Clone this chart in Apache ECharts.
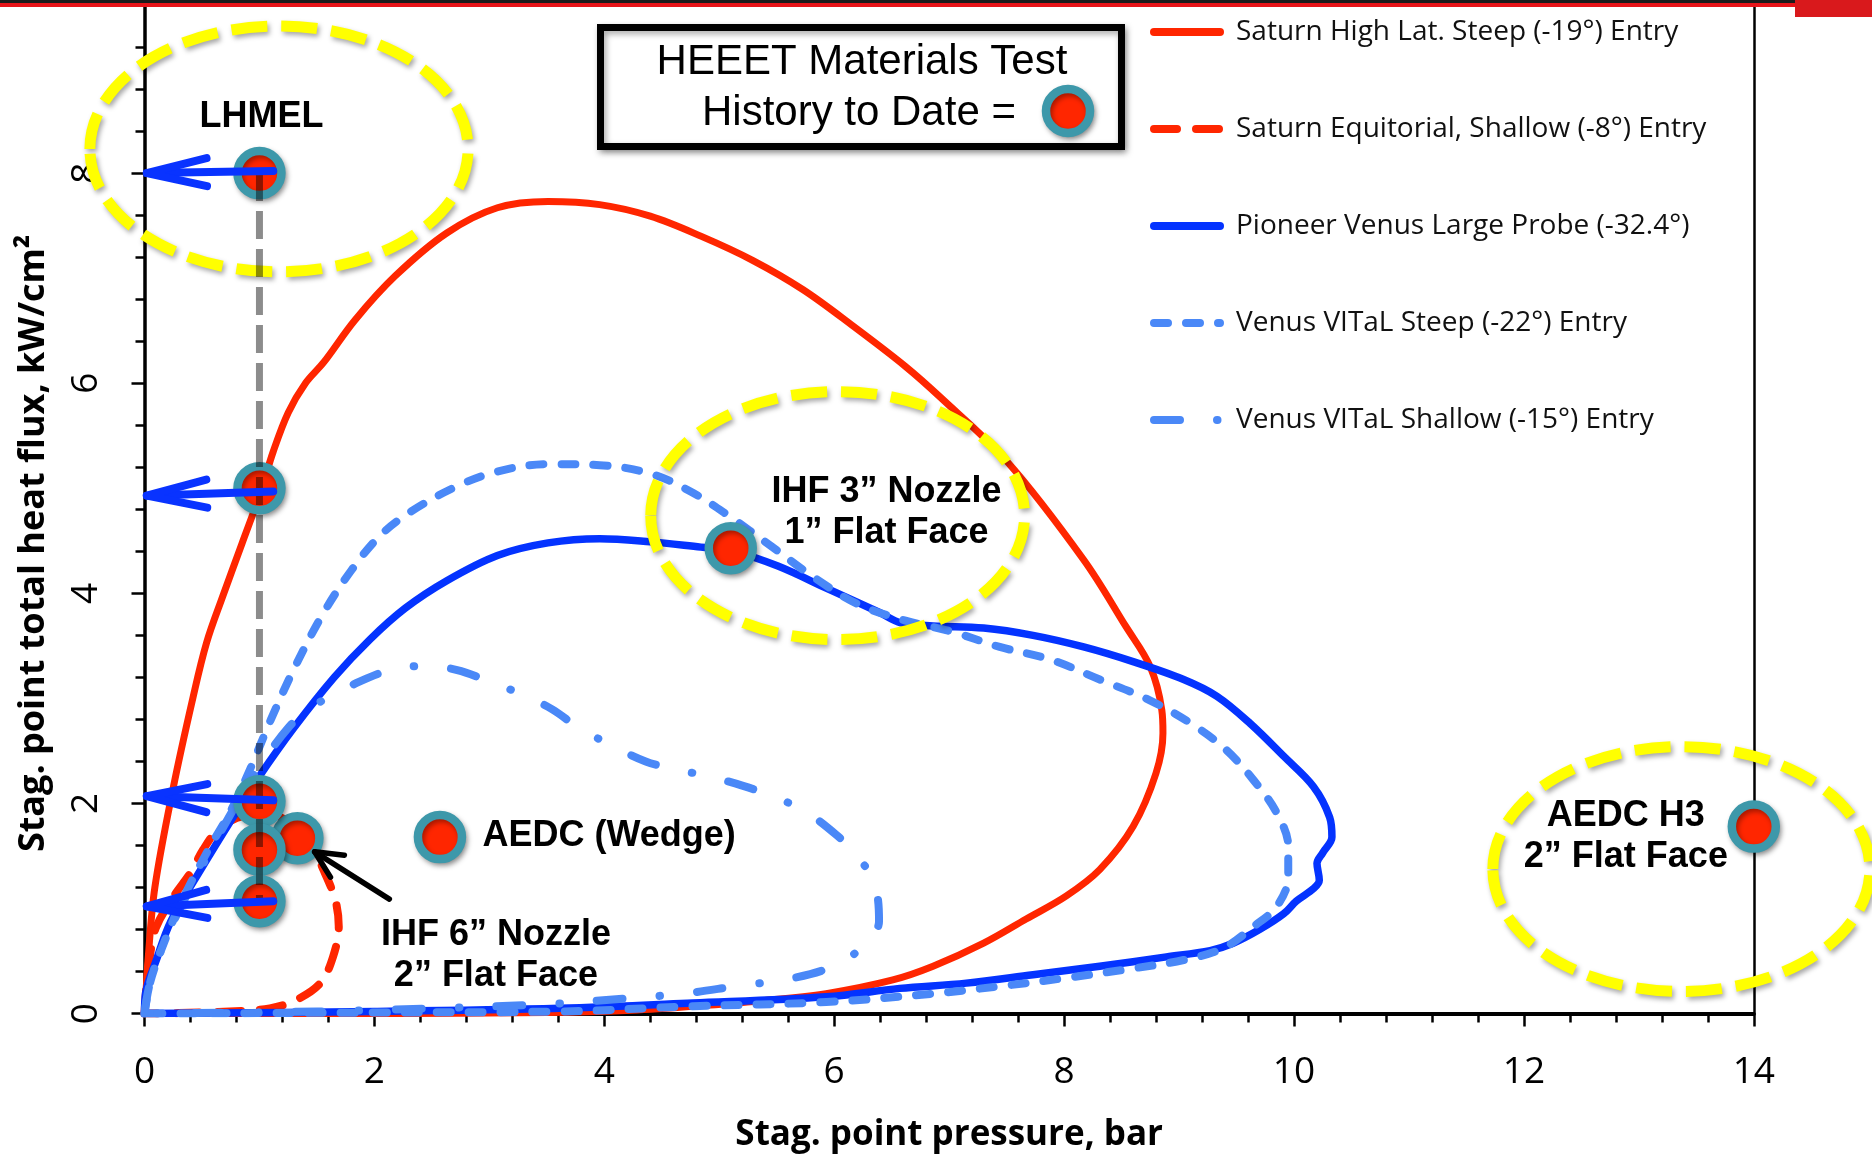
<!DOCTYPE html>
<html>
<head>
<meta charset="utf-8">
<script src="https://cdn.jsdelivr.net/npm/echarts@6/dist/echarts.min.js"></script>
<style>
html,body{margin:0;padding:0;background:#ffffff;}
#chart{width:1872px;height:1157px;}
</style>
</head>
<body>
<div id="chart"></div>
<script>
// ---------------- DATA ----------------
const seriesNames = [
  'Saturn High Lat. Steep (-19°) Entry',
  'Saturn Equitorial, Shallow (-8°) Entry',
  'Pioneer Venus Large Probe (-32.4°)',
  'Venus VITaL Steep (-22°) Entry',
  'Venus VITaL Shallow (-15°) Entry'
];
const xAxisTitle = 'Stag. point pressure, bar';
const yAxisTitle = 'Stag. point total heat flux, kW/cm²';

// [pressure (bar), heat flux (kW/cm2)] along each trajectory
const saturnSteep = [[0,0],[0.01,0.15],[0.03,0.5],[0.09,1.2],[0.25,2.15],[0.42,3.0],[0.54,3.53],[0.68,3.97],[0.85,4.48],[1.0,4.93],[1.12,5.35],[1.25,5.72],[1.4,6.0],[1.56,6.2],[1.83,6.6],[2.18,7.02],[2.63,7.43],[3.07,7.67],[3.51,7.73],[3.96,7.7],[4.4,7.59],[4.84,7.4],[5.29,7.17],[5.73,6.89],[6.17,6.54],[6.62,6.16],[6.92,5.87],[7.5,5.26],[8.17,4.32],[8.54,3.68],[8.75,3.3],[8.85,2.89],[8.86,2.67],[8.8,2.29],[8.6,1.78],[8.31,1.37],[8.02,1.12],[7.67,0.9],[7.3,0.67],[6.86,0.45],[6.51,0.32],[5.93,0.19],[5.35,0.12],[4.77,0.07],[4.19,0.03],[3.5,0.01],[2,0],[0,0]];
const saturnShallow = [[0,0],[0.02,0.3],[0.05,0.57],[0.1,0.82],[0.25,1.11],[0.4,1.34],[0.51,1.56],[0.63,1.74],[0.8,1.86],[1.0,1.91],[1.2,1.86],[1.42,1.66],[1.56,1.36],[1.66,1.08],[1.69,0.83],[1.64,0.54],[1.53,0.29],[1.32,0.13],[1.09,0.05],[0.74,0.02],[0.3,0.005],[0,0]];
const pioneerVenus = [[0,0],[0.01,0.2],[0.1,0.5],[0.23,0.88],[0.5,1.39],[0.77,1.87],[1.0,2.26],[1.3,2.72],[1.65,3.2],[1.96,3.56],[2.27,3.86],[2.63,4.12],[3.07,4.36],[3.51,4.48],[3.96,4.52],[4.4,4.49],[4.84,4.44],[5.1,4.41],[5.51,4.26],[5.95,4.04],[6.39,3.82],[6.58,3.72],[6.86,3.69],[7.3,3.67],[7.73,3.6],[8.17,3.49],[8.6,3.35],[9.04,3.18],[9.33,3.02],[9.62,2.76],[9.91,2.45],[10.17,2.16],[10.31,1.87],[10.33,1.68],[10.25,1.53],[10.2,1.43],[10.22,1.27],[10.17,1.19],[10.02,1.07],[9.91,0.95],[9.7,0.8],[9.47,0.67],[9.27,0.6],[8.89,0.54],[8.31,0.45],[7.73,0.37],[7.15,0.29],[6.57,0.24],[5.93,0.16],[4.77,0.1],[3.61,0.05],[2,0.02],[0,0]];
const vitalSteep = [[0,0],[0.05,0.3],[0.15,0.62],[0.32,1.06],[0.55,1.55],[0.75,1.93],[0.92,2.33],[1.1,2.8],[1.3,3.28],[1.55,3.8],[1.8,4.22],[2.05,4.55],[2.32,4.78],[2.72,5.02],[3.07,5.16],[3.51,5.23],[3.96,5.22],[4.4,5.14],[4.75,4.97],[5.08,4.74],[5.45,4.45],[5.84,4.14],[6.2,3.9],[6.62,3.74],[7.01,3.64],[7.44,3.49],[7.88,3.37],[8.31,3.18],[8.75,2.98],[9.12,2.75],[9.41,2.51],[9.65,2.22],[9.85,1.91],[9.95,1.59],[9.95,1.3],[9.85,1.02],[9.65,0.83],[9.38,0.62],[9.04,0.51],[8.6,0.43],[8.02,0.34],[7.44,0.26],[6.86,0.19],[5.93,0.11],[4.77,0.07],[3.61,0.02],[2,0.01],[0,0]];
const vitalShallow = [[0,0],[0.05,0.3],[0.2,0.75],[0.45,1.3],[0.75,1.9],[1.0,2.35],[1.25,2.72],[1.45,2.92],[1.61,3.01],[1.87,3.16],[2.14,3.27],[2.43,3.31],[2.72,3.27],[3.0,3.16],[3.28,3.04],[3.54,2.9],[3.78,2.72],[4.05,2.56],[4.36,2.4],[4.6,2.33],[4.9,2.26],[5.2,2.17],[5.46,2.07],[5.74,1.93],[6.02,1.7],[6.2,1.5],[6.35,1.24],[6.39,0.88],[6.27,0.66],[6.01,0.46],[5.65,0.34],[5.14,0.26],[4.69,0.19],[4.25,0.15],[3.5,0.09],[2.5,0.05],[1.5,0.02],[0,0]];

// HEEET materials test points [pressure, heat flux]
const testPoints = [[1.33,1.67],[1.0,8.0],[1.0,5.0],[1.0,2.02],[1.0,1.56],[1.0,1.07],[2.57,1.68],[5.1,4.43],[14.0,1.78]];
// LHMEL sweep (dashed grey line)
const lhmelSweep = [[1.0,8.0],[1.0,1.07]];
// arrows [x0, y0, xTip, yTip]
const lhmelArrows = [[1.12,8.02,0.02,8.0],[1.12,4.97,0.02,4.93],[1.12,2.03,0.02,2.07],[1.12,1.07,0.02,1.02]];
const pointerArrows = [[2.13,1.09,1.48,1.54]];
// highlight ellipses [cx, cy, rx, ry] in data units
const highlightEllipses = [[1.17,8.23,1.645,1.17],[6.03,4.74,1.626,1.18],[13.37,1.376,1.64,1.165]];
// annotations
const annotationTexts = ['LHMEL','IHF 3” Nozzle\n1” Flat Face','AEDC (Wedge)','IHF 6” Nozzle\n2” Flat Face','AEDC H3\n2” Flat Face'];
const annotationAnchors = [[1.018,8.534],[6.455,4.765],[2.94,1.69],[3.057,0.555],[12.887,1.684]];
const annotationAlign = ['center','center','left','center','center'];

// ---------------- STYLE ----------------
const RED = '#ff2600', BLUE = '#0433ff', LBLUE = '#4a88f7';
const MARK_RED = '#ff2600', MARK_RING = '#3d98aa';

function lineSeries(name, data, color, dash, width) {
  return {
    name, type: 'line', data, symbol: 'none', smooth: 0.35, z: 2,
    lineStyle: {color, width, type: dash, cap: 'round', join: 'round'},
    itemStyle: {color}, emphasis: {disabled: true}, silent: true
  };
}

function arrowRenderer(color, width, headLen, headHalf) {
  return function (params, api) {
    const p0 = api.coord([api.value(0), api.value(1)]);
    const p1 = api.coord([api.value(2), api.value(3)]);
    const dx = p1[0] - p0[0], dy = p1[1] - p0[1];
    const L = Math.hypot(dx, dy) || 1;
    const ux = dx / L, uy = dy / L;
    const bx = p1[0] - ux * headLen, by = p1[1] - uy * headLen;
    const a = [bx - uy * headHalf, by + ux * headHalf];
    const b = [bx + uy * headHalf, by - ux * headHalf];
    return {
      type: 'group', children: [
        {type: 'line', shape: {x1: p0[0], y1: p0[1], x2: p1[0], y2: p1[1]},
         style: {stroke: color, lineWidth: width, lineCap: 'round'}},
        {type: 'polyline', shape: {points: [a, p1, b]},
         style: {stroke: color, lineWidth: width, lineCap: 'round', lineJoin: 'round', fill: 'none'}}
      ]
    };
  };
}

const chart = echarts.init(document.getElementById('chart'), null, {renderer: 'canvas', width: 1872, height: 1157});

const axisFont = '"Open Sans", "DejaVu Sans", sans-serif';
const boldFont = '"Liberation Sans", Arial, sans-serif';

const option = {
  animation: false,
  backgroundColor: '#ffffff',
  grid: {left: 144.5, right: 118.2, top: 5, bottom: 143.4, outerBoundsMode: 'none', containLabel: false},
  legend: {
    orient: 'vertical', left: 1150, top: 15, padding: 0,
    itemWidth: 66, itemHeight: 14, itemGap: 63,
    data: seriesNames, selectedMode: false,
    itemStyle: {opacity: 0, borderWidth: 0},
    lineStyle: {width: 8},
    textStyle: {fontFamily: axisFont, fontSize: 28, color: '#111', lineHeight: 34, padding: [0, 0, 0, 11]}
  },
  xAxis: {
    type: 'value', min: 0, max: 14, interval: 2,
    name: xAxisTitle, nameLocation: 'middle', nameGap: 104,
    nameTextStyle: {fontFamily: axisFont, fontSize: 35, fontWeight: 'bold', color: '#000'},
    axisLine: {show: true, onZero: false, lineStyle: {color: '#000', width: 4}},
    axisTick: {show: true, length: 13, lineStyle: {color: '#000', width: 2.5}},
    minorTick: {show: true, splitNumber: 5, length: 9, lineStyle: {color: '#000', width: 2.5}},
    axisLabel: {fontFamily: axisFont, fontSize: 37, color: '#000', margin: 40, lineHeight: 37},
    splitLine: {show: false}, minorSplitLine: {show: false}
  },
  yAxis: [{
    type: 'value', min: 0, max: 9.6, interval: 2,
    name: yAxisTitle, nameLocation: 'middle', nameGap: 93, nameRotate: 90,
    nameTextStyle: {fontFamily: axisFont, fontSize: 36, fontWeight: 'bold', color: '#000', padding: [0, 68, 0, 0]},
    axisLine: {show: true, onZero: false, lineStyle: {color: '#000', width: 3.5}},
    axisTick: {show: true, length: 13, lineStyle: {color: '#000', width: 2.5}},
    minorTick: {show: true, splitNumber: 5, length: 9, lineStyle: {color: '#000', width: 2.5}},
    axisLabel: {fontFamily: axisFont, fontSize: 37, color: '#000', rotate: 90, margin: 40, lineHeight: 37, showMaxLabel: false},
    splitLine: {show: false}, minorSplitLine: {show: false}
  }, {
    type: 'value', min: 0, max: 9.6, position: 'right',
    axisLine: {show: true, onZero: false, lineStyle: {color: '#000', width: 2.5}},
    axisTick: {show: false}, axisLabel: {show: false}, splitLine: {show: false}
  }],
  graphic: [
    {type: 'rect', shape: {x: 0, y: 0, width: 1872, height: 3}, style: {fill: '#1c1c1c'}, z: 100},
    {type: 'rect', shape: {x: 0, y: 3, width: 1872, height: 4}, style: {fill: '#e8141a'}, z: 100},
    {type: 'rect', shape: {x: 1795, y: 0, width: 77, height: 17}, style: {fill: '#d9191c'}, z: 100},
    {type: 'rect', shape: {x: 600.5, y: 27.5, width: 521, height: 119},
     style: {fill: '#ffffff', stroke: '#000', lineWidth: 7, shadowBlur: 6, shadowColor: 'rgba(0,0,0,0.35)', shadowOffsetX: 2, shadowOffsetY: 3}, z: 100},
    {type: 'text', x: 862, y: 62, style: {text: 'HEEET Materials Test', fill: '#000', fontSize: 42, fontFamily: boldFont, align: 'center', verticalAlign: 'middle'}, z: 101},
    {type: 'text', x: 702, y: 113, style: {text: 'History to Date =', fill: '#000', fontSize: 42, fontFamily: boldFont, align: 'left', verticalAlign: 'middle'}, z: 101},
    {type: 'circle', shape: {cx: 1068, cy: 111, r: 22},
     style: {fill: MARK_RED, stroke: MARK_RING, lineWidth: 8.5, shadowBlur: 5, shadowColor: 'rgba(0,0,0,0.35)', shadowOffsetX: 2, shadowOffsetY: 3}, z: 101}
  ],
  series: [
    lineSeries(seriesNames[0], saturnSteep, RED, 'solid', 7),
    lineSeries(seriesNames[1], saturnShallow, RED, [23, 19], 8),
    lineSeries(seriesNames[2], pioneerVenus, BLUE, 'solid', 7.5),
    lineSeries(seriesNames[3], vitalSteep, LBLUE, [14, 18], 8),
    lineSeries(seriesNames[4], vitalShallow, LBLUE, [26, 37, 0.5, 37], 8),
    {
      name: 'highlight', type: 'custom', coordinateSystem: 'cartesian2d', z: 3, silent: true, clip: false,
      data: highlightEllipses,
      renderItem: function (params, api) {
        const c = api.coord([api.value(0), api.value(1)]);
        const s = api.size([api.value(2), api.value(3)], [api.value(0), api.value(1)]);
        const rx = s[0], ry = s[1];
        const d = 'M' + (c[0] - rx) + ' ' + c[1] + ' A' + rx + ' ' + ry + ' 0 1 1 ' + (c[0] + rx) + ' ' + c[1] +
                  ' A' + rx + ' ' + ry + ' 0 1 1 ' + (c[0] - rx) + ' ' + c[1] + ' Z';
        return {type: 'path', shape: {pathData: d},
          style: {fill: 'none', stroke: '#ffff00', lineWidth: 11, lineDash: [36, 14],
                  shadowBlur: 5, shadowColor: 'rgba(0,0,0,0.35)', shadowOffsetX: 2, shadowOffsetY: 3}};
      }
    },
    {
      name: 'HEEET Materials Test', type: 'scatter', data: testPoints, z: 4, silent: true,
      symbol: 'circle', symbolSize: 44, clip: false,
      itemStyle: {color: MARK_RED, borderColor: MARK_RING, borderWidth: 8.5, opacity: 1,
                  shadowBlur: 5, shadowColor: 'rgba(0,0,0,0.35)', shadowOffsetX: 2, shadowOffsetY: 3},
      emphasis: {disabled: true}
    },
    {
      name: 'LHMEL sweep', type: 'line', data: lhmelSweep, z: 5, symbol: 'none', silent: true,
      lineStyle: {color: 'rgba(0,0,0,0.45)', width: 7, type: [28, 10]}
    },
    {
      name: 'LHMEL arrows', type: 'custom', coordinateSystem: 'cartesian2d', z: 6, silent: true, clip: false,
      data: lhmelArrows, renderItem: arrowRenderer('#0933ff', 8, 60, 14)
    },
    {
      name: 'pointer', type: 'custom', coordinateSystem: 'cartesian2d', z: 6, silent: true, clip: false,
      data: pointerArrows, renderItem: arrowRenderer('#000000', 5.5, 27, 13)
    },
    {
      name: 'annotations', type: 'custom', coordinateSystem: 'cartesian2d', z: 7, silent: true, clip: false,
      data: annotationAnchors,
      renderItem: function (params, api) {
        const p = api.coord([api.value(0), api.value(1)]);
        return {type: 'text', x: p[0], y: p[1],
          style: {text: annotationTexts[params.dataIndex], fill: '#000', fontSize: 36, fontWeight: 'bold',
                  fontFamily: boldFont, align: annotationAlign[params.dataIndex], verticalAlign: 'middle', lineHeight: 41}};
      }
    }
  ]
};
chart.setOption(option);
</script>
</body>
</html>
